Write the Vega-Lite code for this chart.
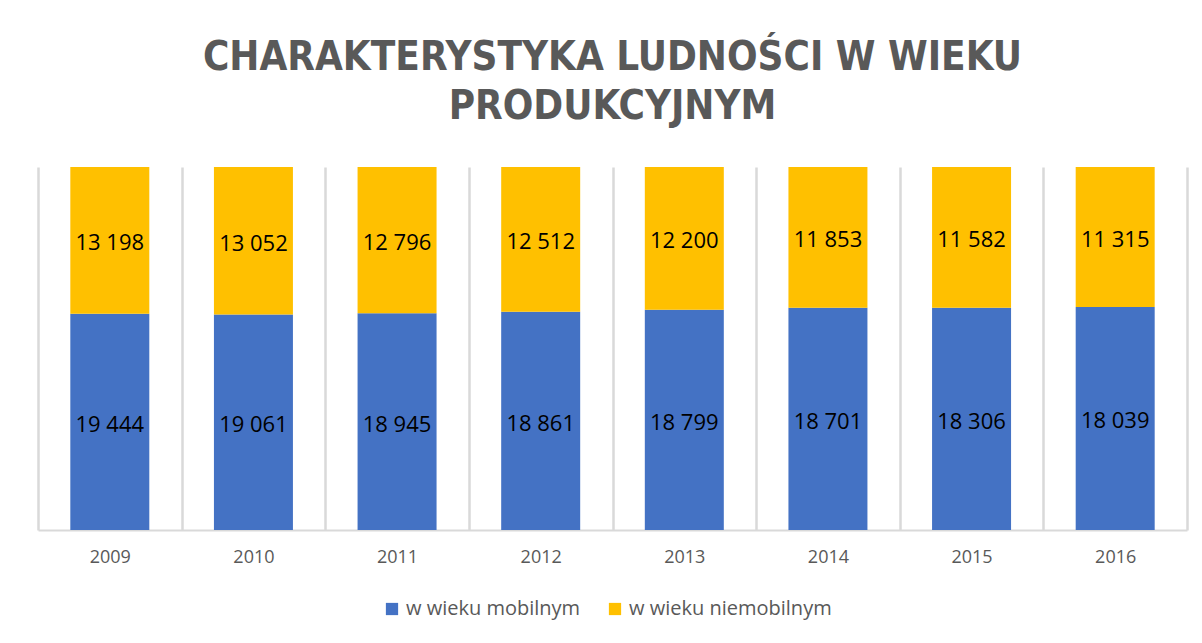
{
  "$schema": "https://vega.github.io/schema/vega-lite/v6.json",
  "autosize": {"type": "none"},
  "padding": {"left": 38, "top": 167, "right": 15, "bottom": 113},
  "width": 1149,
  "height": 363,
  "background": "white",
  "config": {
    "view": {"stroke": null},
    "locale": {"number": {"decimal": ",", "thousands": " ", "grouping": [3], "currency": ["", " zł"]}}
  },
  "title": {
    "text": ["CHARAKTERYSTYKA  LUDNOŚCI  W  WIEKU", "PRODUKCYJNYM"],
    "anchor": "middle",
    "frame": "group",
    "font": "DejaVu Sans Condensed",
    "fontSize": 40,
    "fontWeight": "bold",
    "color": "#595959",
    "lineHeight": 49,
    "offset": 40
  },
  "data": {
    "values": [
      {"year": "2009", "series": "w wieku mobilnym", "o": 1, "value": 19444},
      {"year": "2010", "series": "w wieku mobilnym", "o": 1, "value": 19061},
      {"year": "2011", "series": "w wieku mobilnym", "o": 1, "value": 18945},
      {"year": "2012", "series": "w wieku mobilnym", "o": 1, "value": 18861},
      {"year": "2013", "series": "w wieku mobilnym", "o": 1, "value": 18799},
      {"year": "2014", "series": "w wieku mobilnym", "o": 1, "value": 18701},
      {"year": "2015", "series": "w wieku mobilnym", "o": 1, "value": 18306},
      {"year": "2016", "series": "w wieku mobilnym", "o": 1, "value": 18039},
      {"year": "2009", "series": "w wieku niemobilnym", "o": 2, "value": 13198},
      {"year": "2010", "series": "w wieku niemobilnym", "o": 2, "value": 13052},
      {"year": "2011", "series": "w wieku niemobilnym", "o": 2, "value": 12796},
      {"year": "2012", "series": "w wieku niemobilnym", "o": 2, "value": 12512},
      {"year": "2013", "series": "w wieku niemobilnym", "o": 2, "value": 12200},
      {"year": "2014", "series": "w wieku niemobilnym", "o": 2, "value": 11853},
      {"year": "2015", "series": "w wieku niemobilnym", "o": 2, "value": 11582},
      {"year": "2016", "series": "w wieku niemobilnym", "o": 2, "value": 11315}
    ]
  },
  "encoding": {
    "x": {
      "field": "year",
      "type": "nominal",
      "scale": {"paddingInner": 0, "paddingOuter": 0},
      "axis": {
        "title": null,
        "labelAngle": 0,
        "labelColor": "#595959",
        "labelFont": "Open Sans",
        "labelFontSize": 18,
        "labelPadding": 18,
        "ticks": false,
        "domainColor": "#d9d9d9",
        "domainWidth": 2,
        "grid": true,
        "gridColor": "#d9d9d9",
        "gridWidth": 2.5,
        "tickBand": "extent"
      }
    }
  },
  "layer": [
    {
      "mark": {"type": "bar", "width": {"band": 0.55}},
      "encoding": {
        "y": {"field": "value", "type": "quantitative", "stack": "normalize", "axis": null},
        "color": {
          "field": "series",
          "type": "nominal",
          "scale": {"domain": ["w wieku mobilnym", "w wieku niemobilnym"], "range": ["#4472C4", "#FFC000"]},
          "legend": {
            "title": null,
            "orient": "none",
            "direction": "horizontal",
            "legendX": 344,
            "legendY": 432,
            "symbolType": "square",
            "symbolSize": 150,
            "symbolStrokeWidth": 0,
            "labelFont": "Open Sans",
            "labelFontSize": 20,
            "labelColor": "#595959",
            "labelLimit": 400,
            "columnPadding": 24
          }
        },
        "order": {"field": "o", "type": "quantitative"}
      }
    },
    {
      "mark": {"type": "text", "font": "Open Sans", "fontSize": 22, "color": "#000000", "dy": 3},
      "encoding": {
        "y": {"field": "value", "type": "quantitative", "stack": "normalize", "bandPosition": 0.5},
        "detail": {"field": "series", "type": "nominal"},
        "order": {"field": "o", "type": "quantitative"},
        "text": {"field": "value", "type": "quantitative", "format": ",d"}
      }
    }
  ]
}
